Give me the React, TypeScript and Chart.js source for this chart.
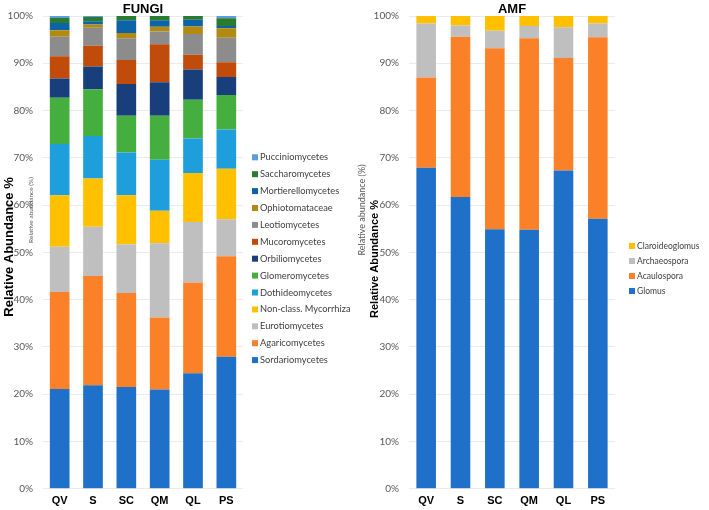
import React, { useEffect, useRef } from "react";
import { Chart, registerables } from "chart.js";

Chart.register(...registerables);

// Sampling sites (x-axis categories)
const sites = ["QV", "S", "SC", "QM", "QL", "PS"];

// FUNGI: relative abundance (%) per class, one value per site
const fungiClasses = [
  "Sordariomycetes",
  "Agaricomycetes",
  "Eurotiomycetes",
  "Non-class. Mycorrhiza",
  "Dothideomycetes",
  "Glomeromycetes",
  "Orbiliomycetes",
  "Mucoromycetes",
  "Leotiomycetes",
  "Ophiotomataceae",
  "Mortierellomycetes",
  "Saccharomycetes",
  "Pucciniomycetes",
];
const sordariomycetes = [21.1, 21.9, 21.5, 21.0, 24.4, 27.9];
const agaricomycetes = [20.5, 23.1, 19.9, 15.2, 19.2, 21.3];
const eurotiomycetes = [9.6, 10.4, 10.3, 15.7, 12.8, 7.8];
const nonClassMycorrhiza = [10.9, 10.2, 10.4, 6.9, 10.4, 10.7];
const dothideomycetes = [10.8, 9.0, 9.0, 10.8, 7.3, 8.3];
const glomeromycetes = [9.8, 9.9, 7.8, 9.3, 8.2, 7.3];
const orbiliomycetes = [4.1, 4.8, 6.7, 7.1, 6.4, 3.8];
const mucoromycetes = [4.7, 4.4, 5.1, 8.0, 3.1, 3.1];
const leotiomycetes = [4.1, 3.8, 4.6, 2.7, 4.4, 5.2];
const ophiotomataceae = [1.4, 0.7, 1.1, 1.0, 1.6, 2.0];
const mortierellomycetes = [1.5, 0.7, 2.7, 1.4, 1.4, 0.5];
const saccharomycetes = [1.1, 0.9, 0.9, 0.9, 0.8, 1.6];
const pucciniomycetes = [0.4, 0.2, 0.0, 0.0, 0.0, 0.5];
const fungiColors = [
  "#1f70c8",
  "#fb8129",
  "#bfbfbf",
  "#ffc000",
  "#1e9fdb",
  "#44af3f",
  "#183f7c",
  "#c04b0a",
  "#8c8c8c",
  "#b38a10",
  "#0c63a6",
  "#2a7a2f",
  "#5c9ddb",
];

// AMF: relative abundance (%) per genus
const amfGenera = ["Glomus", "Acaulospora", "Archaeospora", "Claroideoglomus"];
const glomus = [67.9, 61.7, 54.9, 54.8, 67.3, 57.1];
const acaulospora = [19.1, 33.9, 38.3, 40.5, 23.8, 38.4];
const archaeospora = [11.4, 2.4, 3.7, 2.6, 6.5, 2.9];
const claroideoglomus = [1.6, 2.0, 3.1, 2.1, 2.4, 1.6];
const amfColors = ["#1f70c8", "#fb8129", "#bfbfbf", "#ffc000"];

const fungiValues = [
  sordariomycetes,
  agaricomycetes,
  eurotiomycetes,
  nonClassMycorrhiza,
  dothideomycetes,
  glomeromycetes,
  orbiliomycetes,
  mucoromycetes,
  leotiomycetes,
  ophiotomataceae,
  mortierellomycetes,
  saccharomycetes,
  pucciniomycetes,
];
const amfValues = [glomus, acaulospora, archaeospora, claroideoglomus];

const H = 510;
const PLOT_TOP = 15.7;
const PLOT_BOTTOM = 488.7;

type LegendSpec = { boxX: number; textX: number; y0: number; step: number; size: number; box: number };
type PanelSpec = {
  left: number;
  width: number;
  plotLeft: number;
  plotRight: number;
  barPct: number;
  title: string;
  names: string[];
  colors: string[];
  values: number[][];
  bigTitle: { x: number; y: number; size: number };
  smallTitle: { x: number; y: number; size: number };
  legend: LegendSpec;
};

function makeDecor(p: PanelSpec) {
  return {
    id: "decor",
    afterDraw(chart: any) {
      const ctx = chart.ctx as CanvasRenderingContext2D;
      const area = chart.chartArea;
      ctx.save();
      // panel title
      ctx.fillStyle = "#000";
      ctx.font = "bold 13px 'Liberation Sans', Arial, sans-serif";
      ctx.textAlign = "center";
      ctx.textBaseline = "middle";
      ctx.fillText(p.title, (area.left + area.right) / 2, 9);

      // y-axis titles
      const rotated = (text: string, x: number, y: number, font: string, color: string) => {
        ctx.save();
        ctx.translate(x, y);
        ctx.rotate(-Math.PI / 2);
        ctx.font = font;
        ctx.fillStyle = color;
        ctx.textAlign = "center";
        ctx.textBaseline = "middle";
        ctx.fillText(text, 0, 0);
        ctx.restore();
      };
      rotated(
        "Relative abundance (%)",
        p.smallTitle.x,
        p.smallTitle.y,
        `${p.smallTitle.size}px Lato, sans-serif`,
        "#595959"
      );
      rotated(
        "Relative Abundance %",
        p.bigTitle.x,
        p.bigTitle.y,
        `bold ${p.bigTitle.size}px 'Liberation Sans', Arial, sans-serif`,
        "#000"
      );

      // legend, top item is the last stacked series
      const lg = p.legend;
      const ds = chart.data.datasets;
      ctx.font = `${lg.size}px Lato, sans-serif`;
      ctx.textAlign = "left";
      ctx.textBaseline = "middle";
      for (let i = 0; i < ds.length; i++) {
        const d = ds[ds.length - 1 - i];
        const y = lg.y0 + i * lg.step;
        ctx.fillStyle = d.backgroundColor;
        ctx.fillRect(lg.boxX, y - lg.box / 2, lg.box, lg.box);
        ctx.fillStyle = "#404040";
        ctx.fillText(d.label, lg.textX, y);
      }
      ctx.restore();
    },
  };
}

function StackPanel({ spec }: { spec: PanelSpec }) {
  const ref = useRef<HTMLCanvasElement>(null);
  useEffect(() => {
    if (!ref.current) return;
    const p = spec;
    const chart = new Chart(ref.current, {
      type: "bar",
      data: {
        labels: sites,
        datasets: p.names.map((name, i) => ({
          label: name,
          data: p.values[i],
          backgroundColor: p.colors[i],
          borderWidth: 0,
          barPercentage: p.barPct,
          categoryPercentage: 1,
        })),
      },
      options: {
        animation: false,
        responsive: false,
        maintainAspectRatio: false,
        devicePixelRatio: 1,
        layout: {
          padding: { left: 0, right: p.width - p.plotRight, top: PLOT_TOP, bottom: 0 },
        },
        plugins: {
          legend: { display: false },
          title: { display: false },
          tooltip: { enabled: false },
        },
        scales: {
          x: {
            stacked: true,
            grid: { display: false, drawTicks: false },
            border: { display: false },
            ticks: {
              color: "#000",
              padding: 6,
              font: { family: "'Liberation Sans', Arial, sans-serif", size: 11, weight: "bold" },
            },
            afterFit: (s: any) => {
              s.height = H - PLOT_BOTTOM;
            },
          },
          y: {
            stacked: true,
            min: 0,
            max: 100,
            ticks: {
              stepSize: 10,
              padding: 10,
              color: "#595959",
              font: { family: "Lato, sans-serif", size: 10 },
              callback: (v: any) => `${v}%`,
            },
            grid: { color: "#ebebeb", drawTicks: false, lineWidth: 1 },
            border: { display: false },
            afterFit: (s: any) => {
              s.width = p.plotLeft;
            },
          },
        },
      } as any,
      plugins: [makeDecor(p)],
    });
    return () => chart.destroy();
  }, [spec]);
  return (
    <canvas
      ref={ref}
      width={spec.width}
      height={H}
      style={{ position: "absolute", left: spec.left, top: 0, width: spec.width, height: H }}
    />
  );
}

const fungiPanel: PanelSpec = {
  left: 0,
  width: 356,
  plotLeft: 43,
  plotRight: 243,
  barPct: 0.59,
  title: "FUNGI",
  names: fungiClasses,
  colors: fungiColors,
  values: fungiValues,
  bigTitle: { x: 9, y: 247, size: 13 },
  smallTitle: { x: 31, y: 210, size: 6.5 },
  legend: { boxX: 252, textX: 260, y0: 157.3, step: 16.9, size: 9.3, box: 6 },
};

const amfPanel: PanelSpec = {
  left: 340,
  width: 369,
  plotLeft: 69,
  plotRight: 275,
  barPct: 0.57,
  title: "AMF",
  names: amfGenera,
  colors: amfColors,
  values: amfValues,
  bigTitle: { x: 34.5, y: 259, size: 11 },
  smallTitle: { x: 22.5, y: 210, size: 9 },
  legend: { boxX: 289, textX: 297, y0: 246, step: 15, size: 8.5, box: 6 },
};

export default function App() {
  return (
    <div
      style={{
        position: "fixed",
        left: 0,
        top: 0,
        width: 709,
        height: H,
        background: "#fff",
        overflow: "hidden",
      }}
    >
      <StackPanel spec={fungiPanel} />
      <StackPanel spec={amfPanel} />
    </div>
  );
}
